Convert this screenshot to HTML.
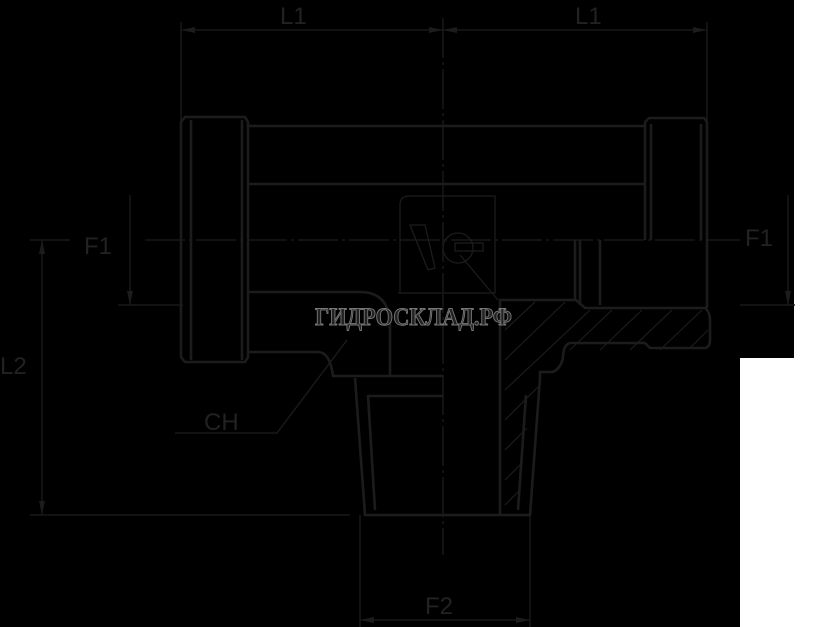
<!DOCTYPE html>
<html><head><meta charset="utf-8"><style>
html,body{margin:0;padding:0;background:#000}
svg{display:block}
.lb{font-family:"Liberation Sans",sans-serif}
</style></head><body>
<svg width="828" height="627" viewBox="0 0 828 627" xmlns="http://www.w3.org/2000/svg">
<rect width="828" height="627" fill="#000"/>
<rect x="794" y="0" width="34" height="358" fill="#fff"/>
<rect x="740" y="358" width="88" height="269" fill="#fff"/>
<g stroke="#1c1c1c" fill="none" stroke-width="1.3">
<line x1="443" y1="18" x2="443" y2="555" stroke-dasharray="40,4,3,4"/>
<line x1="145" y1="240" x2="740" y2="240" stroke-dasharray="40,4,3,4"/>
<line x1="181" y1="22" x2="181" y2="120"/>
<line x1="707" y1="22" x2="707" y2="120"/>
<line x1="181" y1="30" x2="707" y2="30"/>
<line x1="130" y1="195" x2="130" y2="305"/>
<line x1="118" y1="305" x2="183" y2="305"/>
<line x1="788" y1="195" x2="788" y2="305"/>
<line x1="740" y1="305" x2="795" y2="305"/>
<line x1="30" y1="240" x2="70" y2="240"/>
<line x1="42" y1="240" x2="42" y2="515"/>
<line x1="30" y1="515" x2="350" y2="515"/>
<line x1="360" y1="515" x2="360" y2="627"/>
<line x1="530" y1="515" x2="530" y2="627"/>
<line x1="360" y1="620" x2="530" y2="620"/>
<polyline points="175,433 277,433 347,340"/>
<path d="M400,293 V205 Q400,196 409,196 H495 V293 H398"/>
<circle cx="458" cy="248" r="15"/>
<path d="M410,225 L425,225 L435,268 L428,270 Z"/>
<rect x="455" y="243" width="28" height="8"/>
<line x1="460" y1="255" x2="498" y2="300"/>
<g stroke-width="1.2">
<line x1="505" y1="330" x2="535" y2="302"/>
<line x1="505" y1="360" x2="565" y2="302"/>
<line x1="505" y1="390" x2="590" y2="310"/>
<line x1="505" y1="420" x2="540" y2="385"/>
<line x1="505" y1="450" x2="527" y2="428"/>
<line x1="505" y1="480" x2="523" y2="462"/>
<line x1="505" y1="505" x2="520" y2="490"/>
<line x1="570" y1="350" x2="612" y2="310"/>
<line x1="600" y1="350" x2="642" y2="310"/>
<line x1="630" y1="350" x2="672" y2="310"/>
<line x1="660" y1="350" x2="702" y2="310"/>
<line x1="690" y1="348" x2="708" y2="330"/>
</g>
</g>
<g stroke="#1c1c1c" fill="none" stroke-width="2.6">
<path d="M185,117 H245 L248,122 V357 L245,362 H185 L181,357 V122 Z"/>
<line x1="191" y1="120" x2="191" y2="360"/>
<line x1="242" y1="120" x2="242" y2="360"/>
<line x1="248" y1="126" x2="645" y2="126"/>
<line x1="248" y1="184" x2="645" y2="184"/>
<path d="M645,240 V122 L649,118 H704 L707,122 V240"/>
<line x1="651" y1="124" x2="651" y2="240"/>
<line x1="701" y1="124" x2="701" y2="240"/>
<path d="M248,292 H360 Q388,292 390,322 V375"/>
<path d="M248,352 H318 Q330,352 333,376 H443"/>
<polyline points="355,378 365,515 500,515"/>
<polyline points="368,395 375,510"/>
<line x1="368" y1="396" x2="443" y2="396"/>
<line x1="575" y1="240" x2="575" y2="300"/>
<line x1="580" y1="240" x2="580" y2="305"/>
<line x1="600" y1="240" x2="600" y2="305"/>
<line x1="707" y1="240" x2="707" y2="308"/>
<path d="M500,515 V300 H576 L585,308 H705 Q710,312 710,320 V340 Q710,347 705,348 H650 L645,343 H570 Q563,345 563,358 Q560,370 552,372 H540 V378 L530,515 Z"/>
<line x1="526" y1="395" x2="518" y2="510"/>
</g>
<g fill="#1c1c1c">
<path d="M181,30 l14,-3 v6 z"/><path d="M443,30 l-14,-3 v6 z"/>
<path d="M443,30 l14,-3 v6 z"/><path d="M707,30 l-14,-3 v6 z"/>
<path d="M130,305 l-3,-14 h6 z"/><path d="M788,305 l-3,-14 h6 z"/>
<path d="M42,240 l-3,14 h6 z"/><path d="M42,515 l-3,-14 h6 z"/>
<path d="M360,620 l14,-3 v6 z"/><path d="M530,620 l-14,-3 v6 z"/>
</g>
<g fill="#222" font-size="24" class="lb">
<text x="280" y="24">L1</text>
<text x="575" y="24">L1</text>
<text x="84" y="254">F1</text>
<text x="745" y="246">F1</text>
<text x="0" y="374">L2</text>
<text x="204" y="430">CH</text>
<text x="425" y="614">F2</text>
</g>
<text x="315" y="325" style="font-family:'Liberation Serif',serif;font-weight:bold;font-size:25px" fill="#222" stroke="#777" stroke-width="1" textLength="197" lengthAdjust="spacingAndGlyphs">ГИДРОСКЛАД.РФ</text>
</svg>
</body></html>
